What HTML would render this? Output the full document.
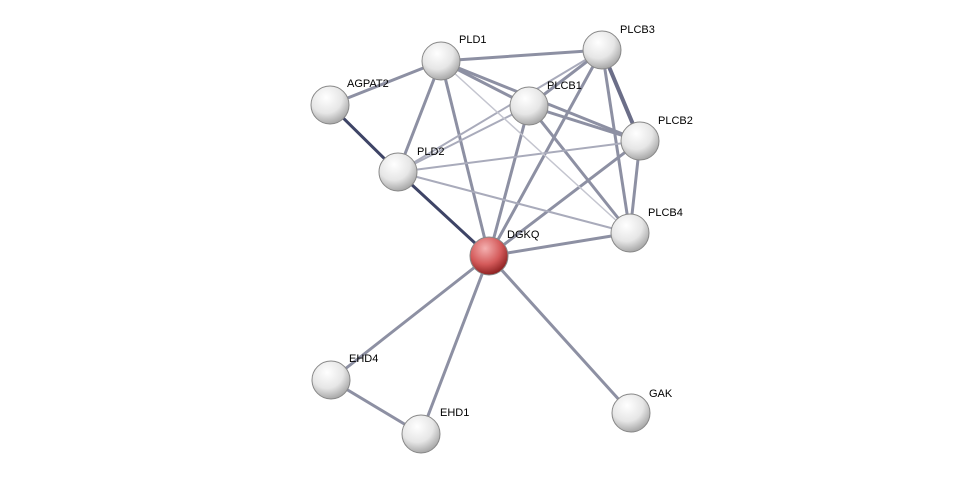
<!DOCTYPE html>
<html><head><style>body{margin:0;background:#fff}svg{display:block}</style></head>
<body>
<svg width="976" height="479" viewBox="0 0 976 479" xmlns="http://www.w3.org/2000/svg" font-family="Liberation Sans, sans-serif" font-size="11">
<defs>
<radialGradient id="g" cx="40%" cy="30%" r="70%">
<stop offset="0" stop-color="#ffffff"/><stop offset="0.6" stop-color="#e6e6e6"/><stop offset="1" stop-color="#a9a9a9"/></radialGradient>
<radialGradient id="r" cx="40%" cy="30%" r="70%">
<stop offset="0" stop-color="#f4b0b0"/><stop offset="0.6" stop-color="#d45a5a"/><stop offset="1" stop-color="#8e2222"/></radialGradient>
</defs>
<g stroke-linecap="round">
<g stroke="#7a7d93" stroke-width="3" opacity="0.85">
<line x1="441" y1="61" x2="602" y2="50"/>
<line x1="441" y1="61" x2="529" y2="106"/>
<line x1="441" y1="61" x2="640" y2="141"/>
<line x1="441" y1="61" x2="398" y2="172"/>
<line x1="441" y1="61" x2="489" y2="256"/>
<line x1="441" y1="61" x2="330" y2="105"/>
<line x1="602" y1="50" x2="529" y2="106"/>
<line x1="602" y1="50" x2="630" y2="233"/>
<line x1="602" y1="50" x2="489" y2="256"/>
<line x1="529" y1="106" x2="640" y2="141"/>
<line x1="529" y1="106" x2="630" y2="233"/>
<line x1="529" y1="106" x2="489" y2="256"/>
<line x1="640" y1="141" x2="630" y2="233"/>
<line x1="640" y1="141" x2="489" y2="256"/>
<line x1="489" y1="256" x2="630" y2="233"/>
<line x1="489" y1="256" x2="331" y2="380"/>
<line x1="489" y1="256" x2="421" y2="434"/>
<line x1="489" y1="256" x2="631" y2="413"/>
<line x1="331" y1="380" x2="421" y2="434"/>
</g>
<line x1="602" y1="50" x2="640" y2="141" stroke="#6b6e88" stroke-width="4"/>
<line x1="330" y1="105" x2="398" y2="172" stroke="#3e4466" stroke-width="3"/>
<line x1="398" y1="172" x2="489" y2="256" stroke="#3e4466" stroke-width="3"/>
<g stroke="#a9abbb" stroke-width="2">
<line x1="398" y1="172" x2="640" y2="141"/>
<line x1="398" y1="172" x2="529" y2="106"/>
<line x1="398" y1="172" x2="602" y2="50"/>
<line x1="398" y1="172" x2="630" y2="233"/>
</g>
<line x1="441" y1="61" x2="630" y2="233" stroke="#c4c5cf" stroke-width="1.5"/>
</g>
<g stroke="#888" stroke-width="1">
<circle cx="441" cy="61" r="19" fill="url(#g)"/>
<circle cx="602" cy="50" r="19" fill="url(#g)"/>
<circle cx="330" cy="105" r="19" fill="url(#g)"/>
<circle cx="529" cy="106" r="19" fill="url(#g)"/>
<circle cx="640" cy="141" r="19" fill="url(#g)"/>
<circle cx="398" cy="172" r="19" fill="url(#g)"/>
<circle cx="489" cy="256" r="19" fill="url(#r)"/>
<circle cx="630" cy="233" r="19" fill="url(#g)"/>
<circle cx="331" cy="380" r="19" fill="url(#g)"/>
<circle cx="421" cy="434" r="19" fill="url(#g)"/>
<circle cx="631" cy="413" r="19" fill="url(#g)"/>
</g>
<g fill="#000">
<text x="459" y="43">PLD1</text>
<text x="620" y="33">PLCB3</text>
<text x="347" y="87">AGPAT2</text>
<text x="547" y="89">PLCB1</text>
<text x="658" y="124">PLCB2</text>
<text x="417" y="155">PLD2</text>
<text x="507" y="238">DGKQ</text>
<text x="648" y="216">PLCB4</text>
<text x="349" y="362">EHD4</text>
<text x="440" y="416">EHD1</text>
<text x="649" y="397">GAK</text>
</g>
</svg>
</body></html>
